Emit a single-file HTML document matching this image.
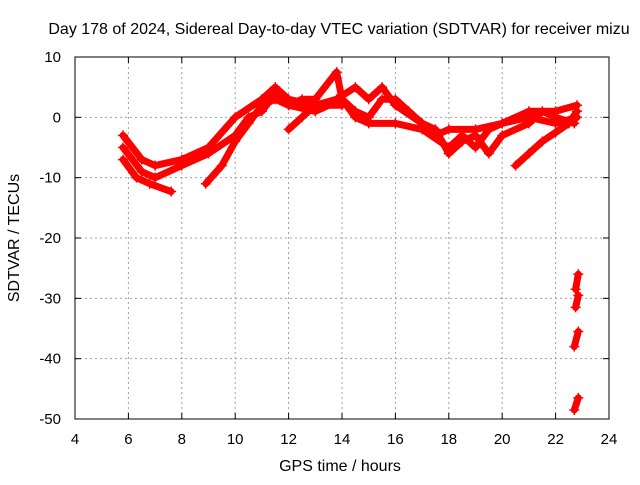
<!DOCTYPE html>
<html><head><meta charset="utf-8"><style>
body{margin:0;background:#fff}
svg text{font-family:"Liberation Sans",sans-serif;font-size:15px;fill:#000}
svg text.big{font-size:16px}
</style></head><body>
<svg id="chart" width="640" height="480" xmlns="http://www.w3.org/2000/svg">
<text class="big" x="339" y="34" text-anchor="middle">Day 178 of 2024, Sidereal Day-to-day VTEC variation (SDTVAR) for receiver mizu</text>
<text class="big" x="340" y="471" text-anchor="middle">GPS time / hours</text>
<text class="big" transform="translate(19,238) rotate(-90)" text-anchor="middle">SDTVAR / TECUs</text>
<g id="grid"></g><g id="series"></g><g id="axes"></g>
</svg>
<script>
const xTicks=[4,6,8,10,12,14,16,18,20,22,24];
const yTicks=[10,0,-10,-20,-30,-40,-50];
const trackA_h=[5.8,6.5,7,8,9,10,11,11.5,12,13,13.8,14.5,15,15.5,16,17,17.5,18,19,20,21,22,22.8];
const trackA_v=[-3,-7,-8,-7,-5,0,3,5,3,2,3,5,3,5,2,-1,-3,-2,-2,-1,1,1,2];
const trackB_h=[5.8,6.5,7,8,9,10,10.5,11,11.5,12,13,14,14.5,15,16,17,18,18.5,19,19.5,20,21,22,22.8];
const trackB_v=[-5,-9,-10,-8,-6,-3,0,1,4,2,1,3,0,-1,-1,-2,-5,-3,-5,-2,-1,0,-1,0];
const trackC_h=[5.8,6.3,6.8,7.6];
const trackC_v=[-7,-10,-11,-12.3];
const trackD_h=[8.9,9.5,10,10.5,11,11.5,12,12.5,13,13.8,14,14.5,15,15.5,16,16.5,17,17.5,18];
const trackD_v=[-11,-8,-4,-1,2,3,2,3,3,7.5,3,1,0,3,3,1,-1,-2,-6];
const trackE_h=[20.5,21,21.5,22,22.5,22.8];
const trackE_v=[-8,-6,-4,-2.5,-1,1];
const trackF_h=[12,12.5,13,14];
const trackF_v=[-2,0,2,2];
const trackG_h=[18,18.5,19,19.5,20,21,21.5,22,22.7];
const trackG_v=[-6,-4,-3,-6,-3,-1,1,0,-1];
const out1_h=[22.75,22.85];const out1_v=[-28.5,-26];
const out2_h=[22.75,22.85];const out2_v=[-31.5,-29.5];
const out3_h=[22.7,22.85];const out3_v=[-38,-35.5];
const out4_h=[22.7,22.85];const out4_v=[-48.5,-46.5];
const tracks=[[trackA_h,trackA_v],[trackB_h,trackB_v],[trackC_h,trackC_v],[trackD_h,trackD_v],[trackE_h,trackE_v],[trackF_h,trackF_v],[trackG_h,trackG_v],[out1_h,out1_v],[out2_h,out2_v],[out3_h,out3_v],[out4_h,out4_v]];
const X0=75,X1=609,Y0=57,Y1=419;
const sx=h=>X0+(h-4)*(X1-X0)/20;
const sy=v=>Y0+(10-v)*(Y1-Y0)/60;
const NS="http://www.w3.org/2000/svg";
function mk(t,a,p){const e=document.createElementNS(NS,t);for(const k in a)e.setAttribute(k,a[k]);p.appendChild(e);return e;}
const grid=document.getElementById('grid'),axes=document.getElementById('axes'),ser=document.getElementById('series');
xTicks.forEach(t=>{const x=sx(t);
 if(t>4&&t<24){const g=mk('line',{x1:x,x2:x,y1:Y0,y2:Y1,stroke:'#a0a0a0','stroke-dasharray':'2,3'},grid);
 
 }
 mk('line',{x1:x,x2:x,y1:Y1,y2:Y1-6,stroke:'#000'},axes);mk('line',{x1:x,x2:x,y1:Y0,y2:Y0+6,stroke:'#000'},axes);
 const l=mk('text',{x:x,y:Y1+25,'text-anchor':'middle'},axes);l.textContent=t;
 
 });
yTicks.forEach(t=>{const y=sy(t);
 if(t<10&&t>-50){const g=mk('line',{x1:X0,x2:X1,y1:y,y2:y,stroke:'#a0a0a0','stroke-dasharray':'2,3'},grid);
 
 }
 mk('line',{x1:X0,x2:X0+6,y1:y,y2:y,stroke:'#000'},axes);mk('line',{x1:X1,x2:X1-6,y1:y,y2:y,stroke:'#000'},axes);
 const l=mk('text',{x:X0-14,y:y+5,'text-anchor':'end'},axes);l.textContent=t;
 
 });
const fr=mk('rect',{x:X0,y:Y0,width:X1-X0,height:Y1-Y0,fill:'none',stroke:'#000'},axes);


tracks.forEach(([hs,vs])=>{
 const pts=hs.map((h,i)=>sx(h)+','+sy(vs[i])).join(' ');
 const p=mk('polyline',{points:pts,fill:'none',stroke:'#f00','stroke-width':7,'stroke-linejoin':'round','stroke-linecap':'round'},ser);
 
 
 hs.forEach((h,i)=>{const x=sx(h),y=sy(vs[i]);
  const m=mk('path',{d:`M${x-5},${y}h10M${x},${y-5}v10`,stroke:'#f00','stroke-width':1.5},ser);
  
  });
});
</script>
</body></html>
